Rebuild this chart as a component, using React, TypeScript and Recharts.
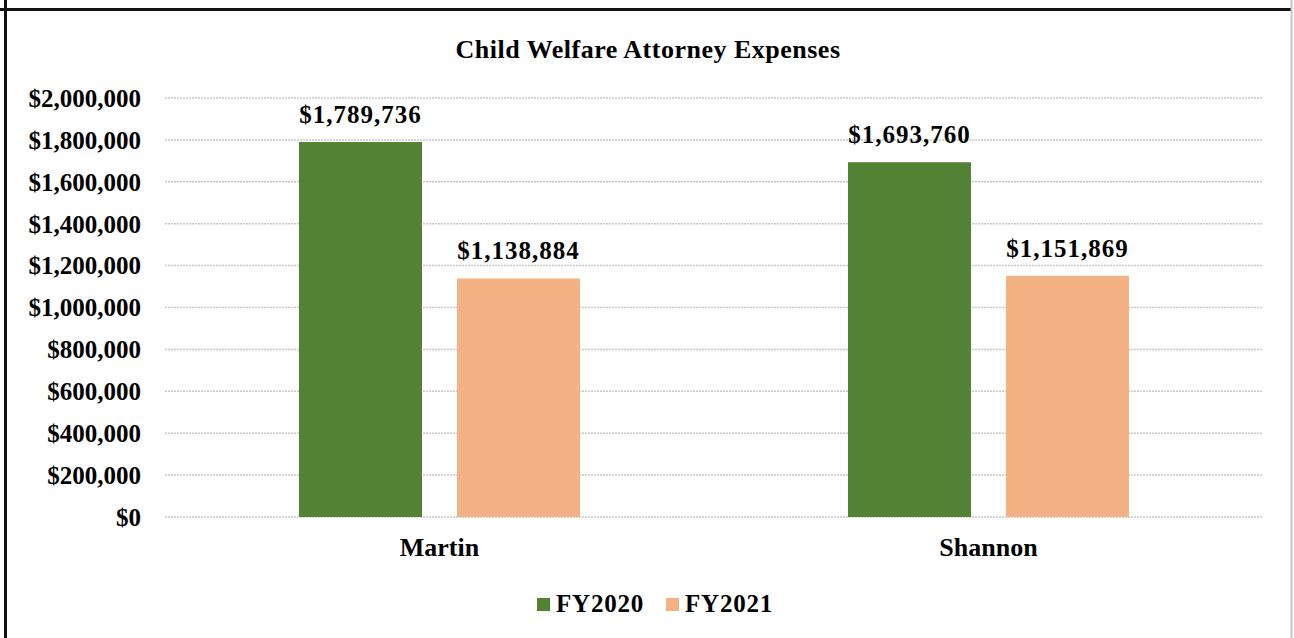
import React from 'react';
import { BarChart, Bar, XAxis, YAxis, CartesianGrid, LabelList } from 'recharts';

const categories = ['Martin', 'Shannon'];
const fy2020 = [1789736, 1693760];
const fy2021 = [1138884, 1151869];
const seriesNames = ['FY2020', 'FY2021'];
const seriesColors = ['#548235', '#F4B183'];
const yTicks = [0, 200000, 400000, 600000, 800000, 1000000, 1200000, 1400000, 1600000, 1800000, 2000000];
const title = 'Child Welfare Attorney Expenses';

const data = categories.map((c, i) => ({ name: c, fy2020: fy2020[i], fy2021: fy2021[i] }));

const FONT = '"Liberation Serif", "Times New Roman", serif';
const money = (v: number) => '$' + v.toLocaleString('en-US');

export default function App() {
  return (
    <div style={{ position: 'absolute', left: 0, top: 0, width: 1294, height: 638, background: '#fff', overflow: 'hidden' }}>
      <BarChart
        width={1294}
        height={638}
        data={data}
        margin={{ top: 98, right: 31, bottom: 71, left: 0 }}
        barGap={35}
        barSize={123}
      >
        <CartesianGrid vertical={false} stroke="#c8c8c8" strokeWidth={1.5} strokeDasharray="2 1" />
        <XAxis
          dataKey="name"
          axisLine={false}
          tickLine={false}
          tickSize={0}
          tickMargin={21}
          height={50}
          tick={{ fill: '#000', fontSize: 26, fontWeight: 'bold', fontFamily: FONT }}
        />
        <YAxis
          width={165}
          domain={[0, 2000000]}
          ticks={yTicks}
          interval={0}
          axisLine={false}
          tickLine={false}
          tickSize={0}
          tickMargin={24}
          tickFormatter={money}
          tick={{ fill: '#000', fontSize: 25, fontWeight: 'bold', fontFamily: FONT }}
        />
        <Bar dataKey="fy2020" name={seriesNames[0]} fill={seriesColors[0]} isAnimationActive={false}>
          <LabelList dataKey="fy2020" position="top" offset={19} formatter={(v: any) => money(Number(v))}
            style={{ fill: '#000', fontSize: 25, fontWeight: 'bold', fontFamily: FONT, letterSpacing: 1 }} />
        </Bar>
        <Bar dataKey="fy2021" name={seriesNames[1]} fill={seriesColors[1]} isAnimationActive={false}>
          <LabelList dataKey="fy2021" position="top" offset={19} formatter={(v: any) => money(Number(v))}
            style={{ fill: '#000', fontSize: 25, fontWeight: 'bold', fontFamily: FONT, letterSpacing: 1 }} />
        </Bar>
      </BarChart>
      <svg width={1294} height={638} style={{ position: 'absolute', left: 0, top: 0, pointerEvents: 'none' }}>
        <line x1={0} y1={9.5} x2={1291} y2={9.5} stroke="#111" strokeWidth={3} />
        <line x1={5.5} y1={0} x2={5.5} y2={638} stroke="#111" strokeWidth={3} />
        <line x1={1291.5} y1={0} x2={1291.5} y2={638} stroke="#c8c8c8" strokeWidth={2} />
        <text x={648} y={58} textAnchor="middle" fontFamily={FONT} fontWeight="bold" fontSize={26} letterSpacing={0.5} fill="#000">{title}</text>
        <rect x={537} y={598} width={13} height={13} fill={seriesColors[0]} />
        <text x={556} y={612} fontFamily={FONT} fontWeight="bold" fontSize={25} letterSpacing={0.8} fill="#000">{seriesNames[0]}</text>
        <rect x={666} y={598} width={13} height={13} fill={seriesColors[1]} />
        <text x={685} y={612} fontFamily={FONT} fontWeight="bold" fontSize={25} letterSpacing={0.8} fill="#000">{seriesNames[1]}</text>
      </svg>
    </div>
  );
}
